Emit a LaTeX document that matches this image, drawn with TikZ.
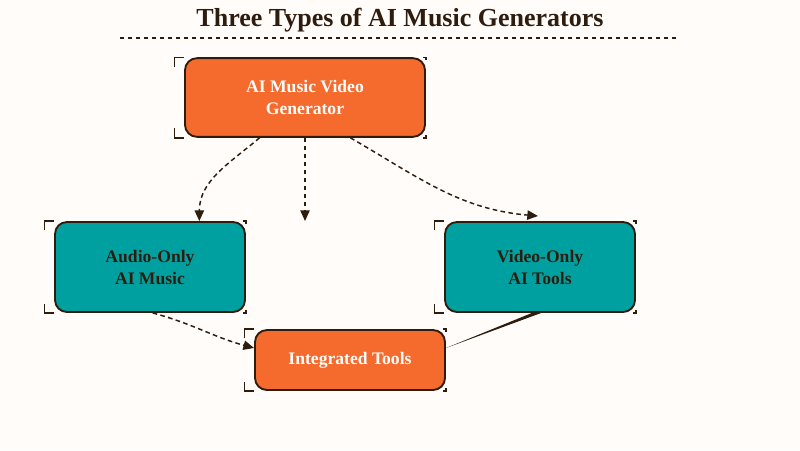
\documentclass[tikz,border=0pt]{standalone}
\usepackage{fontspec}
\setmainfont{Liberation Serif}
\usetikzlibrary{positioning,arrows.meta}
\definecolor{bg}{HTML}{FFFCFA}
\definecolor{brd}{HTML}{2E1C0E}
\definecolor{orng}{HTML}{F56B2E}
\definecolor{teal}{HTML}{00A0A0}
\tikzset{
  box/.style={draw=brd,line width=1.4pt,rounded corners=9pt,text=white,align=center,
    font=\bfseries\fontsize{13.2}{16.5}\selectfont,inner sep=0pt},
  hot/.style={box,fill=orng,text=bg},
  cool/.style={box,fill=teal,text=brd},
  flow/.style={draw=brd,line width=1.1pt,dash pattern=on 3.5pt off 2.5pt,-{Triangle[length=8pt,width=7pt]}},
  cornermark/.style={draw=brd,line width=1.1pt}
}
\newcommand{\boxbrackets}[1]{%
  \draw[cornermark] ([shift={(-7pt,-7pt)}]#1.north west) -- ([shift={(-7pt,0pt)}]#1.north west) -- (#1.north west);
  \draw[cornermark] ([shift={(-7pt,7pt)}]#1.south west) -- ([shift={(-7pt,0pt)}]#1.south west) -- (#1.south west);
  \draw[cornermark] ([xshift=-2pt]#1.north east) -- (#1.north east) -- ([yshift=-2pt]#1.north east);
  \draw[cornermark] ([xshift=-2pt]#1.south east) -- (#1.south east) -- ([yshift=2pt]#1.south east);
}
\begin{document}
\begin{tikzpicture}[x=0.75pt,y=-0.75pt]
  \useasboundingbox[fill=bg] (0,0) rectangle (800,450);
  \node[font=\bfseries\fontsize{19.5}{22}\selectfont,text=brd] (title) at (400,20) {Three Types of AI Music Generators};
  \draw[brd,dashed,line width=0.8pt] (120,38) -- (677,38);

  \node[hot,minimum width=180pt,minimum height=59pt] (gen) at (305,97.5) {AI Music Video\\Generator};
  \node[cool,minimum width=142.5pt,minimum height=67.5pt] (aud) at (150,267) {Audio-Only\\AI Music};
  \node[cool,minimum width=142.5pt,minimum height=67.5pt] (vid) at (540,267) {Video-Only\\AI Tools};
  \node[hot,minimum width=142.5pt,minimum height=45pt] (int) at (350,360) {Integrated Tools};
  \boxbrackets{gen}
  \boxbrackets{aud}
  \boxbrackets{vid}
  \boxbrackets{int}

  \coordinate (mid) at (305,221);
  \coordinate (rgt) at (538,216);
  \draw[flow] ([xshift=-34pt]gen.south) to[out=220,in=90] ([xshift=37pt]aud.north);
  \draw[flow] (gen.south) -- (mid);
  \draw[flow] ([xshift=34pt]gen.south) to[out=-30,in=175] (rgt);
  \draw[flow] ([xshift=2pt]aud.south) to[out=-15,in=165] ([yshift=9pt]int.west);
  \fill[brd] ([xshift=-6pt]vid.south) -- ([xshift=1pt]vid.south) -- ([yshift=9pt]int.east) -- cycle;
\end{tikzpicture}
\end{document}
